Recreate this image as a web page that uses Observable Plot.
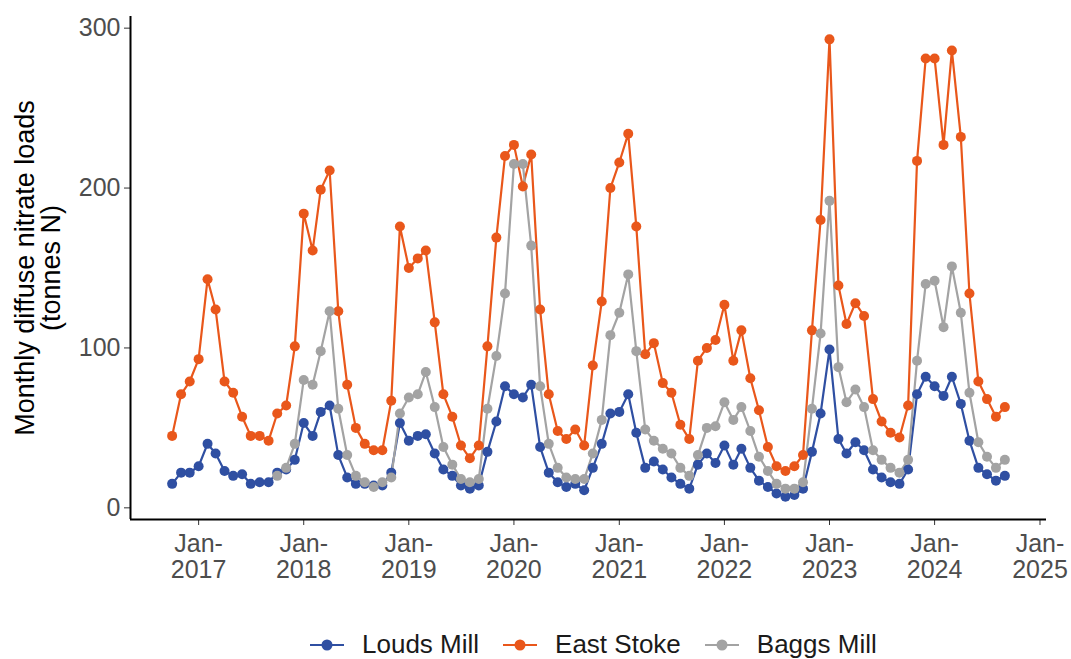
<!DOCTYPE html>
<html>
<head>
<meta charset="utf-8">
<script src="https://cdn.jsdelivr.net/npm/d3@7"></script>
<script src="https://cdn.jsdelivr.net/npm/@observablehq/plot@0.6"></script>
<style>
  body { margin: 0; background: #fff; font-family: "Liberation Sans", Arial, sans-serif; }
  #chart { position: relative; width: 1071px; height: 659px; overflow: hidden; }
  #legend { position: absolute; left: 308px; top: 629px; display: flex; align-items: center; font-size: 26px; color: #1a1a1a; }
  .item { display: flex; align-items: center; margin-right: 22px; }
  .item svg { margin-right: 16px; }
</style>
</head>
<body>
<div id="chart"></div>
<script>
// ---- data ----
const startMonth = "2016-10-01";
const endMonth = "2024-09-01";
const seriesNames = ["Louds Mill", "East Stoke", "Baggs Mill"];
const seriesColors = ["#2f4fa2", "#e9571b", "#a3a3a3"];
const xTickYears = [2017, 2018, 2019, 2020, 2021, 2022, 2023, 2024, 2025];
const yTicks = [0, 100, 200, 300];
const yTitle = "Monthly diffuse nitrate loads\n(tonnes N)";

const loudsMill = [
  15, 22, 22, 26, 40, 34, 23, 20, 21, 15, 16, 16,
  22, 24, 30, 53, 45, 60, 64, 33, 19, 15, 15, 14,
  14, 22, 53, 42, 45, 46, 34, 24, 20, 14, 12, 14,
  35, 54, 76, 71, 69, 77, 38, 22, 16, 13, 15, 11,
  25, 40, 59, 60, 71, 47, 25, 29, 24, 19, 15, 12,
  27, 34, 28, 39, 27, 37, 25, 17, 13, 9, 7, 8,
  12, 35, 59, 99, 43, 34, 41, 36, 24, 19, 16, 15,
  24, 71, 82, 76, 70, 82, 65, 42, 25, 21, 17, 20
];
const eastStoke = [
  45, 71, 79, 93, 143, 124, 79, 72, 57, 45, 45, 42,
  59, 64, 101, 184, 161, 199, 211, 123, 77, 50, 40, 36,
  36, 67, 176, 150, 156, 161, 116, 71, 57, 39, 31, 39,
  101, 169, 220, 227, 201, 221, 124, 71, 48, 43, 49, 39,
  89, 129, 200, 216, 234, 176, 96, 103, 78, 72, 52, 43,
  92, 100, 105, 127, 92, 111, 81, 61, 38, 26, 23, 26,
  33, 111, 180, 293, 139, 115, 128, 120, 68, 54, 47, 44,
  64, 217, 281, 281, 227, 286, 232, 134, 79, 68, 57, 63
];
const baggsMill = [
  null, null, null, null, null, null, null, null, null, null, null, null,
  20, 25, 40, 80, 77, 98, 123, 62, 33, 20, 16, 13,
  16, 19, 59, 69, 71, 85, 63, 38, 27, 18, 16, 18,
  62, 95, 134, 215, 215, 164, 76, 40, 25, 19, 18, 18,
  34, 55, 108, 122, 146, 98, 49, 42, 37, 34, 25, 20,
  33, 50, 51, 66, 55, 63, 48, 32, 23, 15, 12, 12,
  16, 62, 109, 192, 88, 66, 74, 63, 36, 30, 25, 22,
  30, 92, 140, 142, 113, 151, 122, 72, 41, 32, 25, 30
];

// ---- build table ----
const months = d3.utcMonth.range(new Date(startMonth), d3.utcMonth.offset(new Date(endMonth), 1));
const seriesValues = [loudsMill, eastStoke, baggsMill];
const rows = [];
seriesNames.forEach((name, s) => {
  seriesValues[s].forEach((v, i) => {
    if (v != null) rows.push({ date: months[i], value: v, series: name });
  });
});

// ggplot-like 5% expansion
const t0 = months[0], t1 = months[months.length - 1];
const span = t1 - t0;
const xDomain = [new Date(+t0 - 0.05 * span), new Date(+t1 + 0.05 * span)];
const vmin = d3.min(rows, d => d.value), vmax = d3.max(rows, d => d.value);
const vr = vmax - vmin;
const yDomain = [vmin - 0.05 * vr, vmax + 0.05 * vr];
const xTicks = xTickYears.map(y => new Date(Date.UTC(y, 0, 1)));

const plot = Plot.plot({
  width: 1071,
  height: 625,
  marginLeft: 130,
  marginRight: 25,
  marginTop: 16,
  marginBottom: 106,
  x: { type: "utc", domain: xDomain },
  y: { domain: yDomain },
  color: { domain: seriesNames, range: seriesColors },
  style: { fontFamily: "Liberation Sans, Arial, sans-serif", background: "white", overflow: "visible" },
  marks: [
    Plot.axisY({ ticks: yTicks, tickSize: 6, tickPadding: 4, fontSize: 25, fill: "#4d4d4d", stroke: "#333", label: null }),
    Plot.axisX({ ticks: xTicks, tickSize: 6, tickPadding: 7, fontSize: 25, fill: "#4d4d4d", stroke: "#333", label: null,
                 tickFormat: d => `Jan-\n${d.getUTCFullYear()}`, lineHeight: 1.07 }),
    Plot.ruleX([xDomain[0]], { stroke: "black", strokeWidth: 2 }),
    Plot.ruleY([yDomain[0]], { stroke: "black", strokeWidth: 2 }),
    Plot.line(rows, { x: "date", y: "value", stroke: "series", strokeWidth: 2.2 }),
    Plot.dot(rows, { x: "date", y: "value", fill: "series", r: 5 }),
    Plot.text([yTitle], { frameAnchor: "left", textAnchor: "middle", lineAnchor: "middle", rotate: -90, dx: -92,
                          fontSize: 27, lineHeight: 0.96, fill: "black" })
  ]
});

const chart = document.getElementById("chart");
chart.appendChild(plot);

// legend below the svg
const legend = document.createElement("div");
legend.id = "legend";
seriesNames.forEach((name, i) => {
  const item = document.createElement("div");
  item.className = "item";
  item.innerHTML = `<svg width="38" height="20"><line x1="2" x2="36" y1="10" y2="10" stroke="${seriesColors[i]}" stroke-width="2.2"/><circle cx="19" cy="10" r="5.5" fill="${seriesColors[i]}"/></svg><span>${name}</span>`;
  legend.appendChild(item);
});
chart.appendChild(legend);
</script>
</body>
</html>
